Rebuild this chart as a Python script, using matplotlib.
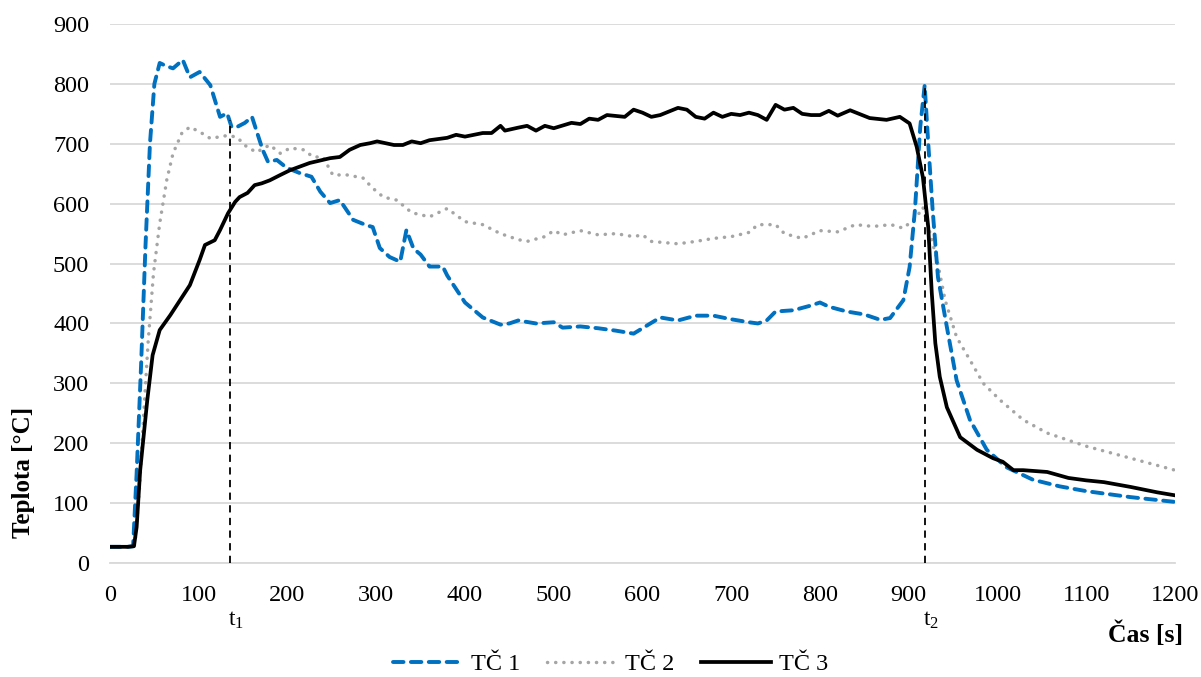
import matplotlib
matplotlib.use("Agg")
import matplotlib.pyplot as plt

plt.rcParams['font.family'] = ['Liberation Serif', 'DejaVu Serif']
plt.rcParams['mathtext.fontset'] = 'custom'
plt.rcParams['mathtext.rm'] = 'Liberation Serif'
plt.rcParams['mathtext.it'] = 'Liberation Serif:italic'

# TČ 1 (blue dashed)
t_tc1 = [0, 10, 20, 26, 30, 35, 40, 45, 50, 56, 63, 71, 82, 90, 101, 113, 124, 132, 137, 143,
         152, 160, 172, 178, 188, 199, 214, 227, 237, 248, 259, 274, 289, 296, 304, 315, 327,
         334, 342, 350, 360, 375, 380, 400, 420, 440, 450, 460, 480, 500, 510, 530, 550, 570,
         590, 600, 620, 640, 660, 680, 700, 720, 730, 740, 750, 770, 790, 800, 810, 830, 850,
         868, 879, 894, 901, 907, 913, 918, 922, 927, 933, 943, 954, 969, 988, 1010, 1040,
         1070, 1100, 1150, 1200]
v_tc1 = [27, 27, 27, 28, 150, 330, 530, 700, 800, 835, 830, 826, 840, 811, 820, 798, 745, 751, 728, 728,
         735, 745, 690, 670, 673, 660, 651, 645, 620, 601, 606, 573, 564, 561, 526, 511, 503,
         556, 525, 515, 495, 495, 480, 435, 410, 398, 400, 405, 400, 402, 393, 395, 392, 388,
         383, 392, 410, 405, 413, 413, 407, 402, 400, 405, 420, 422, 430, 435, 428, 420, 415,
         406, 409, 439, 494, 589, 728, 798, 701, 589, 477, 394, 305, 239, 189, 160, 139,
         128, 120, 110, 102]

# TČ 2 (gray dotted)
t_tc2 = [0, 10, 20, 28, 33, 38, 43, 49, 56, 64, 71, 81, 90, 101, 113, 133, 143, 154, 165, 180,
         192, 203, 218, 229, 240, 251, 267, 285, 296, 308, 323, 340, 360, 380, 400, 420, 440,
         460, 470, 490, 500, 510, 530, 550, 570, 590, 600, 610, 640, 660, 680, 700, 720, 730,
         750, 760, 780, 800, 820, 840, 860, 880, 894, 909, 916, 924, 932, 941, 954, 969, 984,
         1003, 1029, 1056, 1100, 1150, 1200]
v_tc2 = [27, 27, 27, 30, 120, 250, 370, 484, 567, 640, 684, 718, 728, 720, 709, 714, 711, 695, 686, 698,
         684, 693, 690, 678, 678, 648, 648, 643, 626, 611, 606, 585, 578, 592, 570, 565, 550,
         540, 537, 545, 555, 548, 555, 548, 550, 545, 548, 537, 533, 537, 542, 545, 552, 565,
         565, 550, 542, 555, 553, 565, 562, 565, 559, 578, 594, 551, 506, 439, 377, 339, 300,
         272, 239, 217, 195, 175, 155]

# TČ 3 (black solid)
t_tc3 = [0, 10, 20, 27, 30, 34, 42, 48, 56, 68, 79, 90, 101, 107, 118, 124, 133, 141, 146, 155,
         163, 171, 180, 192, 203, 225, 248, 259, 270, 282, 293, 301, 320, 330, 340, 350, 360,
         380, 390, 400, 420, 430, 440, 445, 460, 470, 480, 490, 500, 520, 530, 540, 550, 560,
         580, 590, 600, 610, 620, 640, 650, 660, 670, 680, 690, 700, 710, 720, 730, 740, 750,
         760, 770, 780, 790, 800, 810, 820, 834, 856, 875, 890, 901, 909, 916, 922, 926, 930,
         935, 943, 958, 977, 995, 1006, 1018, 1029, 1056, 1080, 1100, 1120, 1150, 1180, 1200]
v_tc3 = [27, 27, 27, 28, 60, 155, 272, 347, 389, 414, 439, 464, 506, 531, 539, 556, 584, 603, 611, 618,
         631, 634, 639, 648, 656, 668, 676, 678, 690, 698, 701, 704, 698, 698, 704, 701, 706,
         710, 715, 712, 718, 718, 730, 722, 727, 730, 722, 730, 726, 735, 733, 742, 740, 748,
         745, 757, 752, 745, 748, 760, 757, 745, 742, 752, 745, 750, 748, 752, 748, 740, 765,
         757, 760, 750, 748, 748, 755, 747, 756, 743, 740, 745, 734, 695, 644, 561, 451, 367,
         311, 260, 210, 189, 175, 169, 155, 155, 152, 142, 138, 135, 127, 118, 113]

t_marks = [135, 918]
t_mark_tops = [740, 795]
t_mark_labels = ["t$_1$", "t$_2$"]

fig = plt.figure(figsize=(12.01, 6.77), dpi=100)
ax = fig.add_axes([0.0916, 0.1684, 0.8867, 0.7961])

ax.plot(t_tc2, v_tc2, color="#A5A5A5", lw=2.5, linestyle=(0, (0.05, 2.3)),
        dash_capstyle="round", label="TČ 2", zorder=3)
ax.plot(t_tc1, v_tc1, color="#0070C0", lw=2.8, linestyle=(0, (2.7, 1.9)),
        dash_capstyle="round", label="TČ 1", zorder=4)
ax.plot(t_tc3, v_tc3, color="black", lw=2.7, label="TČ 3", zorder=5)

for tm, top, lab in zip(t_marks, t_mark_tops, t_mark_labels):
    ax.vlines(tm, 0, top, colors="black", linestyles=(0, (4, 3)), lw=1.3, zorder=6)
    ax.text(tm + 7, -95, lab, ha="center", va="center", fontsize=17)

ax.set_xlim(0, 1200)
ax.set_ylim(0, 900)
ax.set_xticks(range(0, 1201, 100))
ax.set_yticks(range(0, 901, 100))
ax.tick_params(axis="y", length=0, labelsize=17.5, pad=15)
ax.tick_params(axis="x", length=0, labelsize=17.5, pad=16)
ax.grid(axis="y", color="#D9D9D9", lw=1.3)
ax.set_axisbelow(True)
for s in ["top", "right", "left"]:
    ax.spines[s].set_visible(False)
ax.spines["bottom"].set_color("#D9D9D9")
ax.spines["bottom"].set_linewidth(1.3)

ax.set_ylabel("Teplota [°C]", fontsize=18, fontweight="bold")
ax.yaxis.set_label_coords(35 / 1201, 1 - 472 / 677, transform=fig.transFigure)
fig.text(1145 / 1201, 1 - 634 / 677, "Čas [s]", ha="center", va="center",
         fontsize=18.5, fontweight="bold")

handles, labels = ax.get_legend_handles_labels()
order = [1, 0, 2]
ax.legend([handles[i] for i in order], [labels[i] for i in order],
          loc="center", bbox_to_anchor=(0.5 + 10 / 1201, 1 - 664 / 677),
          bbox_transform=fig.transFigure,
          ncol=3, frameon=False, fontsize=17.5, handlelength=2.9, columnspacing=1.1,
          handletextpad=0.3, borderpad=0, borderaxespad=0)

fig.savefig("out.png", dpi=100)
